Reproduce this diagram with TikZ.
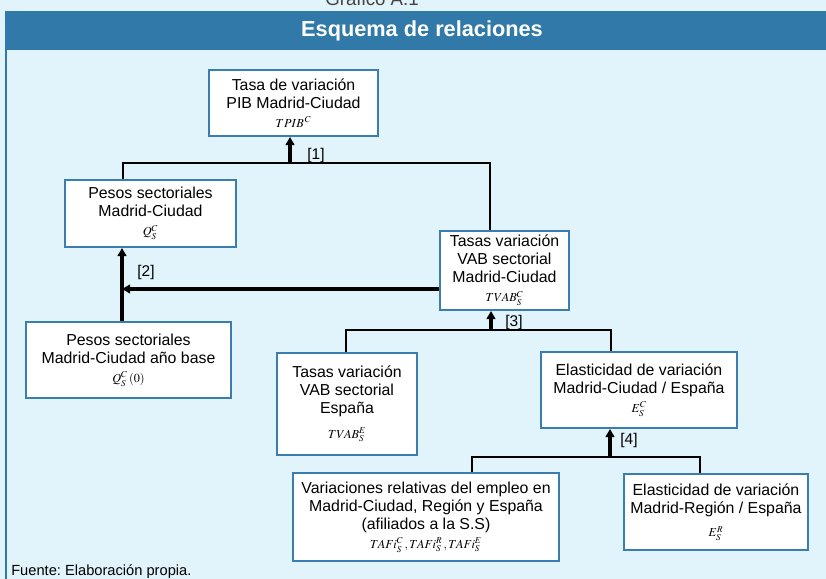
\documentclass[tikz,border=0pt]{standalone}
\usepackage{mathptmx}
\usepackage[no-math]{fontspec}
\setmainfont{Liberation Sans}
\usetikzlibrary{arrows.meta}
\definecolor{bgc}{HTML}{E1F3FB}
\definecolor{hdr}{HTML}{3079A8}
\definecolor{bord}{HTML}{3A7DB0}
\definecolor{ttl}{HTML}{444444}
\frenchspacing
\newcommand{\fml}[1]{\\[1pt]{\fontsize{9.2}{10}\selectfont$#1$}}
\tikzset{
  box/.style={draw=bord, line width=1.5pt, fill=white, inner sep=0pt, align=center,
    font=\fontsize{11.9}{13.4}\selectfont},
  thin/.style={line width=1.6pt, black},
  arr/.style={line width=2.4pt, black, -{Triangle[length=6pt,width=6.5pt]}},
  lab/.style={font=\fontsize{11.6}{13}\selectfont, inner sep=0pt}
}
\begin{document}
\begin{tikzpicture}[x=0.75pt,y=-0.75pt]
\useasboundingbox (0,0) rectangle (826,579);
\fill[bgc] (0,0) rectangle (826,579);
\node[font=\fontsize{14}{16}\selectfont, text=ttl, anchor=base] (graf) at (372,5) {Gráfico A.1};
\fill[hdr] (5,11) rectangle (826,50);
\node[font=\bfseries\fontsize{16.3}{18}\selectfont, text=white] (head) at (422,31) {Esquema de relaciones};
\draw[hdr, line width=1.6pt] (6,50) -- (6,579);

\node[box, minimum width=126.75pt, minimum height=49.5pt] (tpib) at (293.5,103) {Tasa de variación\\PIB Madrid-Ciudad\fml{TPIB^{\,C}}};
\node[box, minimum width=128.25pt, minimum height=50.25pt] (pesos) at (150.5,213.5) {Pesos sectoriales\\Madrid-Ciudad\fml{Q_S^C}};
\node[box, minimum width=153.75pt, minimum height=57pt] (base) at (128.5,360) {Pesos sectoriales\\Madrid-Ciudad año base\fml{Q_S^C\,(0)}};
\node[box, minimum width=96.75pt, minimum height=59.25pt] (tvab) at (504.5,270.5) {Tasas variación\\VAB sectorial\\Madrid-Ciudad\fml{TVAB_S^C}};
\node[box, minimum width=105pt, minimum height=76.5pt] (tvabe) at (347,404) {Tasas variación\\VAB sectorial\\España\\[5pt]{\fontsize{9.2}{10}\selectfont$TVAB_S^E$}};
\node[box, minimum width=147pt, minimum height=57pt] (elasc) at (639,390) {Elasticidad de variación\\Madrid-Ciudad / España\fml{E_S^C}};
\node[box, minimum width=199.5pt, minimum height=66pt] (var) at (426,517) {Variaciones relativas del empleo en\\Madrid-Ciudad, Región y España\\(afiliados a la S.S)\fml{TAFi_S^C\,,TAFi_S^R\,,TAFi_S^E}};
\node[box, minimum width=138pt, minimum height=57pt] (elasr) at (716,512) {Elasticidad de variación\\Madrid-Región / España\\[4pt]{\fontsize{9.2}{10}\selectfont$E_S^R$}};

% [1]
\coordinate (l1) at (123,163);
\coordinate (r1) at (490,163);
\coordinate (j1) at (290,163);
\draw[thin] (pesos.north -| l1) -- (l1) -- (r1) -- (tvab.north -| r1);
\draw[arr] (j1) -- (tpib.south -| j1);
\node[lab] (n1) at (316,155) {[1]};

% [2]
\coordinate (a2) at (122,289);
\draw[arr] (base.north -| a2) -- (pesos.south -| a2);
\draw[arr] (tvab.west |- a2) -- (a2);
\node[lab] (n2) at (146,272) {[2]};

% [3]
\coordinate (l3) at (346,330);
\coordinate (r3) at (611,330);
\coordinate (j3) at (491,330);
\draw[thin] (tvabe.north -| l3) -- (l3) -- (r3) -- (elasc.north -| r3);
\draw[arr] (j3) -- (tvab.south -| j3);
\node[lab] (n3) at (514,322) {[3]};

% [4]
\coordinate (l4) at (472,457);
\coordinate (r4) at (700,457);
\coordinate (j4) at (610,457);
\draw[thin] (var.north -| l4) -- (l4) -- (r4) -- (elasr.north -| r4);
\draw[arr] (j4) -- (elasc.south -| j4);
\node[lab] (n4) at (629,440) {[4]};

\node[anchor=base west, font=\fontsize{11}{13}\selectfont, inner sep=0pt] (fuente) at (11,575) {Fuente: Elaboración propia.};
\end{tikzpicture}
\end{document}
